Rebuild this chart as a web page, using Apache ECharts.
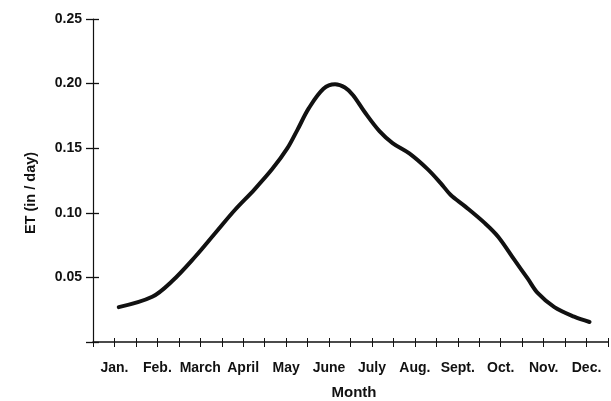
<!DOCTYPE html>
<html>
<head>
<meta charset="utf-8">
<script src="https://cdn.jsdelivr.net/npm/echarts@6/dist/echarts.min.js"></script>
<style>
  html, body { margin: 0; padding: 0; background: #fff; }
  #chart { width: 611px; height: 401px; }
</style>
</head>
<body>
<div id="chart"></div>
<script>
// month labels, placed at month index 1..12
const monthLabels = ['Jan.', 'Feb.', 'March', 'April', 'May', 'June', 'July', 'Aug.', 'Sept.', 'Oct.', 'Nov.', 'Dec.'];

// curve: x in months (Jan = 1), y in inches per day
const etMonth = [1.10, 1.88, 2.34, 2.88, 3.34, 3.80, 4.26, 4.68, 5.03, 5.26, 5.53, 5.87, 6.14, 6.37, 6.56, 6.83, 7.18, 7.48, 7.87, 8.29, 8.60, 8.83, 9.17, 9.63, 9.94, 10.32, 10.63, 10.86, 11.25, 11.71, 12.07];
const etValue = [0.027, 0.035, 0.047, 0.066, 0.084, 0.102, 0.118, 0.134, 0.150, 0.164, 0.181, 0.196, 0.1995, 0.197, 0.191, 0.178, 0.163, 0.154, 0.146, 0.134, 0.123, 0.114, 0.105, 0.092, 0.0815, 0.0635, 0.049, 0.038, 0.027, 0.0196, 0.0155];

const yTicks = [0.05, 0.10, 0.15, 0.20, 0.25];

const font = '"Liberation Sans", Arial, sans-serif';
const ink = '#111';

const chart = echarts.init(document.getElementById('chart'));

const monthFormatter = v => {
  const i = Math.round(v);
  if (Math.abs(v - i) > 1e-6) return '';
  return monthLabels[i - 1] || '';
};

chart.setOption({
  animation: false,
  grid: { left: 93, top: 19, width: 521, height: 323, containLabel: false },
  xAxis: [
    {
      type: 'value', min: 0.5, max: 12.5, interval: 0.5,
      axisLine: { show: true, onZero: false, lineStyle: { color: ink, width: 1.5 } },
      axisTick: { show: true, length: 5, lineStyle: { color: ink, width: 1 } },
      axisLabel: {
        formatter: monthFormatter, margin: 19, color: ink,
        fontFamily: font, fontWeight: 'bold', fontSize: 14
      },
      splitLine: { show: false }
    },
    {
      type: 'value', min: 0.5, max: 12.5, interval: 0.5, position: 'bottom',
      axisLine: { show: false },
      axisTick: { show: true, inside: true, length: 4, lineStyle: { color: ink, width: 1 } },
      axisLabel: { show: false },
      splitLine: { show: false }
    }
  ],
  yAxis: [
    {
      type: 'value', min: 0, max: 0.25, interval: 0.05,
      axisLine: { show: true, onZero: false, lineStyle: { color: ink, width: 1.2 } },
      axisTick: { show: true, length: 7, lineStyle: { color: ink, width: 1.3 } },
      axisLabel: {
        formatter: v => (yTicks.some(t => Math.abs(t - v) < 1e-9) ? v.toFixed(2) : ''),
        margin: 11, color: ink, fontFamily: font, fontWeight: 'bold', fontSize: 14
      },
      splitLine: { show: false }
    },
    {
      type: 'value', min: 0, max: 0.25, interval: 0.05, position: 'left',
      axisLine: { show: false },
      axisTick: { show: true, inside: true, length: 6, lineStyle: { color: ink, width: 1.3 } },
      axisLabel: { show: false },
      splitLine: { show: false }
    }
  ],
  series: [
    {
      type: 'line',
      xAxisIndex: 0, yAxisIndex: 0,
      data: etMonth.map((m, i) => [m, etValue[i]]),
      smooth: 0.35,
      showSymbol: false,
      lineStyle: { color: ink, width: 4, cap: 'round', join: 'round' }
    }
  ],
  graphic: [
    {
      type: 'text', x: 31, y: 193, rotation: Math.PI / 2,
      style: {
        text: 'ET (in / day)', fill: ink, font: 'bold 14.5px ' + font,
        align: 'center', verticalAlign: 'middle'
      }
    },
    {
      type: 'text', x: 354, y: 393,
      style: {
        text: 'Month', fill: ink, font: 'bold 15px ' + font,
        align: 'center', verticalAlign: 'middle'
      }
    }
  ]
});
</script>
</body>
</html>
